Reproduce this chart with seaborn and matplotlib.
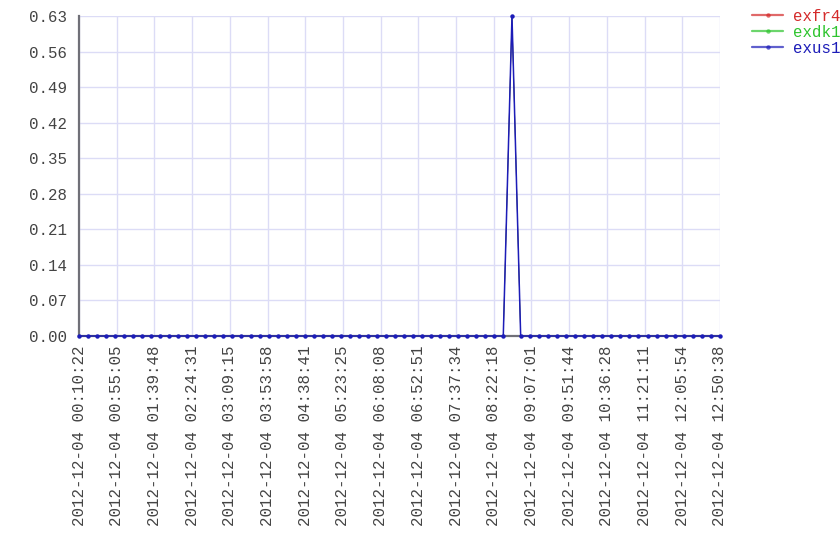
import pandas as pd
import numpy as np
import matplotlib
matplotlib.use("Agg")
import matplotlib.pyplot as plt
import matplotlib.dates as mdates
import seaborn as sns

sns.set_style("white")
plt.rcParams["font.family"] = ["Liberation Mono", "DejaVu Sans Mono"]

# === Data ===
series_names = ["exfr4", "exdk1", "exus1"]
series_colors = ["#d42a2a", "#2ec42e", "#1c1cb8"]

# sampling times (irregular step around the spike)
times_before = pd.date_range("2012-12-04 00:10:22", "2012-12-04 08:33:35", periods=48)
time_spike = pd.to_datetime(["2012-12-04 08:43:54"])
times_after = pd.date_range("2012-12-04 08:54:13", "2012-12-04 12:50:38", periods=23)
times = times_before.append(time_spike).append(times_after)

values_before = [0.0] * 48
value_spike = [0.63]
values_after = [0.0] * 23
values = values_before + value_spike + values_after

df = pd.concat(
    [pd.DataFrame({"time": times, "value": values, "series": name}) for name in series_names],
    ignore_index=True,
)

# === Plot ===
fig = plt.figure(figsize=(8.4, 5.6), dpi=100)
ax = fig.add_axes([79 / 840, 1 - 336 / 560, 641 / 840, 320 / 560])

sns.lineplot(data=df, x="time", y="value", hue="series", hue_order=series_names,
             palette=series_colors, marker="o", markersize=3.2, markeredgewidth=0,
             linewidth=1.1, ax=ax)

# series drawn underneath stay hidden by exus1
for i, line in enumerate(ax.lines[:3]):
    line.set_clip_on(False)
    line.set_zorder(3 + i)
    if i < 2:
        line.set_linewidth(0.5)
        line.set_markersize(2.2)

start, end = times[0], times[-1]
ax.set_xlim(start, end)
ax.set_ylim(0, 0.63)
ax.set_yticks(np.arange(0, 0.631, 0.07))
ax.yaxis.set_major_formatter(plt.FormatStrFormatter("%.2f"))

xticks = pd.date_range(start, end, periods=18)
ax.set_xticks(mdates.date2num(xticks))
ax.set_xticklabels([t.strftime("%Y-%m-%d %H:%M:%S") for t in xticks], rotation=90)

ax.grid(True, color="#dcdcf6", linewidth=1.0)
ax.set_axisbelow(True)
for side in ["top", "right"]:
    ax.spines[side].set_visible(False)
for side in ["left", "bottom"]:
    ax.spines[side].set_color("#707078")
    ax.spines[side].set_linewidth(1.6)
ax.tick_params(axis="both", length=0, labelsize=11.3, labelcolor="#444444")
ax.tick_params(axis="y", pad=9)
ax.tick_params(axis="x", pad=7)
ax.set_xlabel("")
ax.set_ylabel("")

leg = ax.legend(loc="upper left", bbox_to_anchor=(1.05, 1.022), frameon=False,
                fontsize=11.3, handlelength=2.0, handletextpad=0.6, labelspacing=0.05,
                borderpad=0, borderaxespad=0)
for text, color in zip(leg.get_texts(), series_colors):
    text.set_color(color)
for line in leg.get_lines():
    line.set_alpha(0.7)
    line.set_linewidth(1.6)

fig.savefig("out.png", dpi=100)
